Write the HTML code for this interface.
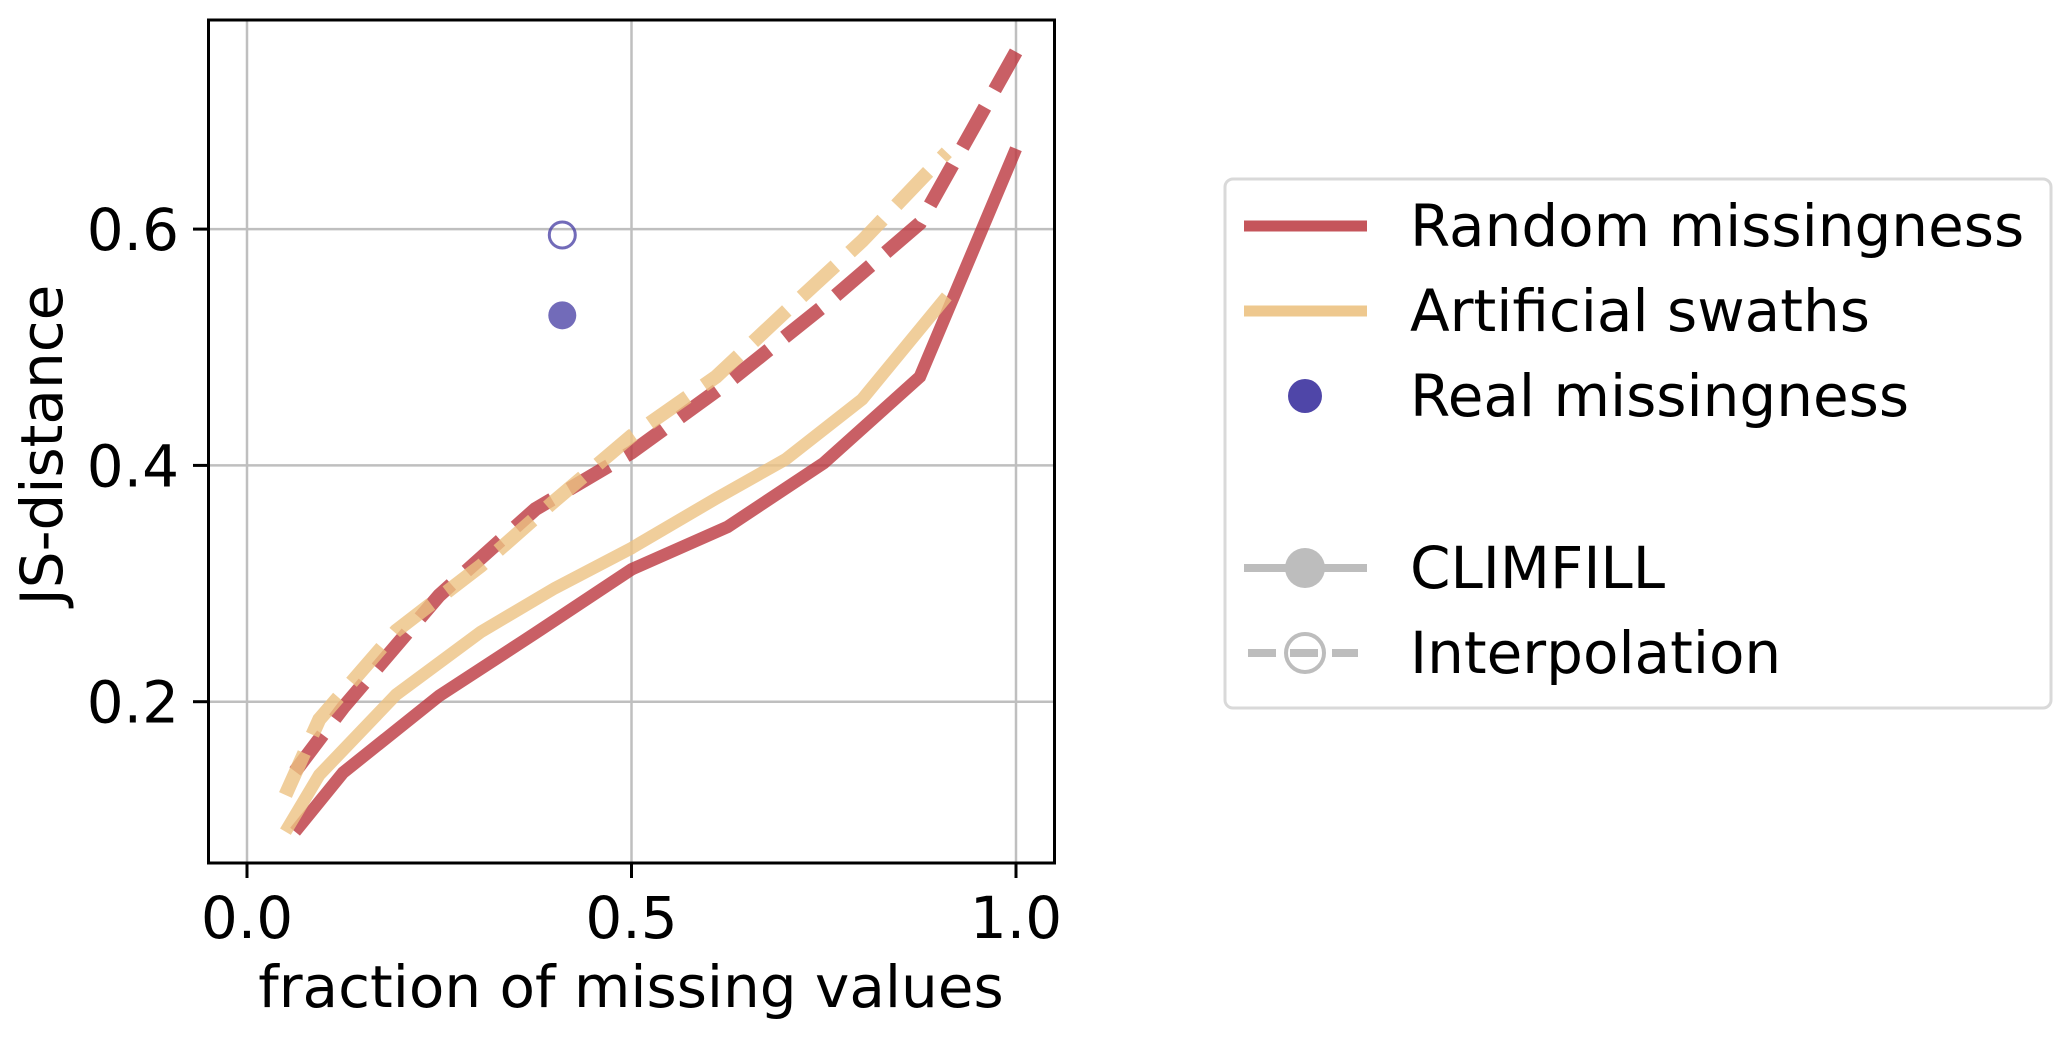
<!DOCTYPE html>
<html><head><meta charset="utf-8">
<style>
html,body{margin:0;padding:0;background:#fff;}
svg{display:block;font-family:"DejaVu Sans","Liberation Sans",sans-serif;}
</style></head>
<body>
<svg id="chart" width="2067" height="1038" viewBox="0 0 2067 1038">
<g id="grid"></g>
<g id="series"></g>
<rect x="208.5" y="20" width="846" height="843" fill="none" stroke="#000" stroke-width="3"/>
<g id="ticks"></g>
<text x="631" y="1007" font-size="58" text-anchor="middle">fraction of missing values</text>
<text transform="translate(62,445) rotate(-90)" font-size="58" text-anchor="middle">JS-distance</text>
<g>
<rect x="1225" y="179" width="826" height="529" rx="8" fill="#fff" stroke="#d9d9d9" stroke-width="3"/>
<g>
<line x1="1244" y1="226" x2="1367" y2="226" stroke="#bb373e" stroke-opacity="0.85" stroke-width="11"/>
<text x="1410" y="246" font-size="58">Random missingness</text></g>
<g>
<line x1="1244" y1="311" x2="1367" y2="311" stroke="#ecc282" stroke-opacity="0.9" stroke-width="11"/>
<text x="1410" y="331" font-size="58">Artificial swaths</text></g>
<g>
<circle cx="1305" cy="396" r="17" fill="#4f46a8"/>
<text x="1410" y="416" font-size="58">Real missingness</text></g>
<g>
<line x1="1244" y1="568" x2="1367" y2="568" stroke="#bdbdbd" stroke-width="8"/>
<circle cx="1305" cy="568" r="20" fill="#bdbdbd"/>
<text x="1410" y="588" font-size="58">CLIMFILL</text></g>
<g>
<line x1="1248" y1="653" x2="1358" y2="653" stroke="#bdbdbd" stroke-width="8" stroke-dasharray="28 14"/>
<circle cx="1305" cy="653" r="19" fill="#fff" fill-opacity="0" stroke="#bdbdbd" stroke-width="4"/>
<text x="1410" y="673" font-size="58">Interpolation</text></g>
</g>
</svg>
<script>
const xTicks = [0.0, 0.5, 1.0];
const xTickLabels = ["0.0", "0.5", "1.0"];
const yTicks = [0.2, 0.4, 0.6];
const yTickLabels = ["0.2", "0.4", "0.6"];
const randomX = [0.0625, 0.125, 0.25, 0.375, 0.5, 0.625, 0.75, 0.875, 1.0];
const randomClimfill = [0.09, 0.14, 0.205, 0.258, 0.312, 0.348, 0.402, 0.475, 0.668];
const randomInterp = [0.141, 0.195, 0.29, 0.363, 0.411, 0.47, 0.535, 0.605, 0.75];
const swathX = [0.05, 0.094, 0.194, 0.304, 0.4, 0.5, 0.61, 0.70, 0.80, 0.91];
const swathClimfill = [0.09, 0.138, 0.206, 0.259, 0.296, 0.33, 0.372, 0.405, 0.456, 0.543];
const swathInterp = [0.121, 0.185, 0.26, 0.315, 0.37, 0.425, 0.475, 0.53, 0.59, 0.665];
const realX = [0.41];
const realClimfill = [0.527];
const realInterp = [0.595];

const NS = "http://www.w3.org/2000/svg";
function sx(v){ return 247 + v * 769; }
function sy(v){ return 938 - v * 1181.5; }
function mk(tag, attrs, parent){
  const e = document.createElementNS(NS, tag);
  for (const k in attrs) e.setAttribute(k, attrs[k]);
  parent.appendChild(e);
  return e;
}
const grid = document.getElementById('grid');
const ticks = document.getElementById('ticks');
const series = document.getElementById('series');

xTicks.forEach((t, i) => {
  const g = mk('line', {x1: sx(t), x2: sx(t), y1: 20, y2: 863, stroke: '#bfbfbf', 'stroke-width': 2.5}, grid);
  
  
  const tk = mk('line', {x1: sx(t), x2: sx(t), y1: 863, y2: 878, stroke: '#000', 'stroke-width': 3}, ticks);
  
  
  const tx = mk('text', {x: sx(t), y: 938, 'font-size': 58, 'text-anchor': 'middle'}, ticks);
  tx.textContent = xTickLabels[i];
  
  
});
yTicks.forEach((t, i) => {
  const g = mk('line', {x1: 208, x2: 1055, y1: sy(t), y2: sy(t), stroke: '#bfbfbf', 'stroke-width': 2.5}, grid);
  
  
  const tk = mk('line', {x1: 193, x2: 208, y1: sy(t), y2: sy(t), stroke: '#000', 'stroke-width': 3}, ticks);
  
  
  const tx = mk('text', {x: 179, y: sy(t) + 21, 'font-size': 58, 'text-anchor': 'end'}, ticks);
  tx.textContent = yTickLabels[i];
  
  
});

function pts(xs, ys){ return xs.map((x, i) => sx(x) + ',' + sy(ys[i])).join(' '); }
function line(xs, ys, color, dashed, name){
  const a = {points: pts(xs, ys), fill: 'none', stroke: color, 'stroke-opacity': 0.8, 'stroke-width': dashed ? 14 : 12.5, 'stroke-linejoin': 'miter'};
  if (dashed) a['stroke-dasharray'] = '46 20';
  const p = mk('polyline', a, series);
  
  
}
line(randomX, randomClimfill, '#bb373e', false, 'line-random-climfill');
line(swathX, swathClimfill, '#ecc282', false, 'line-swaths-climfill');
line(randomX, randomInterp, '#bb373e', true, 'line-random-interpolation');
line(swathX, swathInterp, '#ecc282', true, 'line-swaths-interpolation');

realX.forEach((x, i) => {
  const c1 = mk('circle', {cx: sx(x), cy: sy(realClimfill[i]), r: 14, fill: '#4f46a8', 'fill-opacity': 0.8}, series);
  
  
  const c2 = mk('circle', {cx: sx(x), cy: sy(realInterp[i]), r: 13, fill: 'none', stroke: '#4f46a8', 'stroke-opacity': 0.8, 'stroke-width': 3}, series);
  
  
});
</script>
</body></html>
